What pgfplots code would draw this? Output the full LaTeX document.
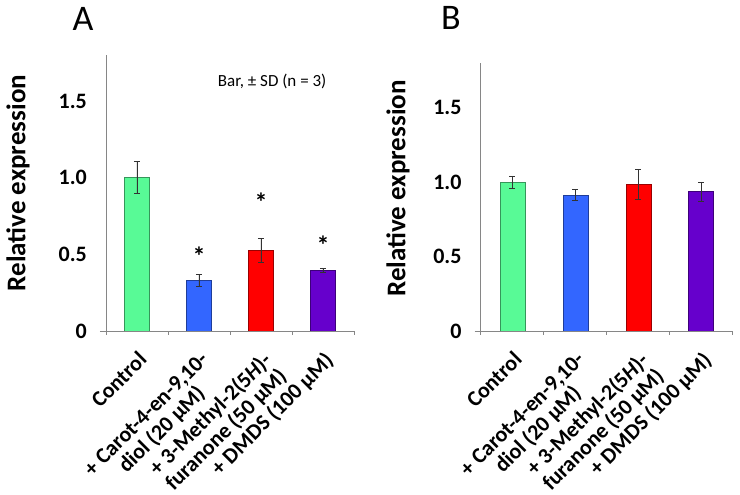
\documentclass[border=0pt]{standalone}
\usepackage{pgfplots}
\pgfplotsset{compat=1.18}
\usepackage{fontspec}
\setmainfont{Carlito}
\definecolor{cgreen}{RGB}{88,250,150}
\definecolor{cblue}{RGB}{51,102,255}
\definecolor{cred}{RGB}{255,0,0}
\definecolor{cpurple}{RGB}{102,0,204}
\definecolor{axgray}{RGB}{134,134,134}
\pgfplotsset{
 myax/.style={
  scale only axis, anchor=south west,
  xmin=-0.5,xmax=3.5,ymin=0,ymax=1.8,
  axis x line*=bottom, axis y line*=left,
  axis line style={-,draw=axgray, line width=0.8pt},
  ybar, bar width=25pt, bar shift=0pt,
  xtick={0,1,2,3},
  xticklabels={Control,{+ Carot-4-en-9,10-\\diol (20 μM)},{+ 3-Methyl-2(5\textit{H})-\\furanone (50 μM)},{+ DMDS (100 μM)}},
  xticklabel style={xshift=0pt, yshift=-19pt, rotate=45, anchor=north east, inner sep=0pt, align=center, font=\bfseries\fontsize{22}{22}\selectfont},
  ytick={0,0.5,1,1.5}, yticklabels={0,0.5,1.0,1.5},
  yticklabel style={font=\bfseries\fontsize{22}{24}\selectfont, inner sep=0pt, anchor=east, xshift=-19pt},
  major tick length=0pt,
  minor xtick={-0.5,0.5,1.5,2.5,3.5},
  minor tick length=4pt, tick align=outside,
  tick style={draw=axgray, line width=0.8pt},
  extra y ticks={0}, extra y tick labels={}, extra y tick style={major tick length=6pt},
  ylabel={Relative expression},
  ylabel style={font=\bfseries\fontsize{27}{30}\selectfont, anchor=center},
  error bars/y dir=both, error bars/y explicit,
  error bars/error bar style={black!80, line width=0.6pt},
  error bars/error mark options={rotate=90, mark size=3pt, black!80, line width=0.6pt},
 }
}
\begin{document}
\begin{tikzpicture}
\begin{axis}[myax, at={(106pt,164pt)}, width=248pt, height=276pt,
  ylabel style={at={(axis description cs:-0.355,0.536)}}]
\addplot[fill=cgreen, draw=cgreen!60!black] coordinates {(0,1.000) +- (0,0.105)};
\addplot[fill=cblue, draw=cblue!60!black] coordinates {(1,0.331) +- (0,0.037)};
\addplot[fill=cred, draw=cred!60!black] coordinates {(2,0.525) +- (0,0.080)};
\addplot[fill=cpurple, draw=cpurple!60!black] coordinates {(3,0.398) +- (0,0.013)};
\node[font=\bfseries\fontsize{26}{26}\selectfont] at (axis cs:1,0.49) {*};
\node[font=\bfseries\fontsize{26}{26}\selectfont] at (axis cs:2,0.84) {*};
\node[font=\bfseries\fontsize{26}{26}\selectfont] at (axis cs:3,0.56) {*};
\node[font=\fontsize{17}{20}\selectfont] at (axis cs:2.18,1.63) {Bar, ± SD (n = 3)};
\end{axis}
\begin{axis}[myax, at={(480.7pt,164pt)}, width=252pt, height=268pt,
  ylabel style={at={(axis description cs:-0.328,0.532)}}]
\addplot[fill=cgreen, draw=cgreen!60!black] coordinates {(0,1.000) +- (0,0.042)};
\addplot[fill=cblue, draw=cblue!60!black] coordinates {(1,0.915) +- (0,0.037)};
\addplot[fill=cred, draw=cred!60!black] coordinates {(2,0.984) +- (0,0.100)};
\addplot[fill=cpurple, draw=cpurple!60!black] coordinates {(3,0.937) +- (0,0.065)};
\end{axis}
\node[font=\fontsize{36}{36}\selectfont] at (83pt,476.5pt) {A};
\node[font=\fontsize{36}{36}\selectfont] at (451pt,477pt) {B};
\pgfresetboundingbox
\useasboundingbox (0pt,0pt) rectangle (740pt,495pt);
\end{tikzpicture}
\end{document}
